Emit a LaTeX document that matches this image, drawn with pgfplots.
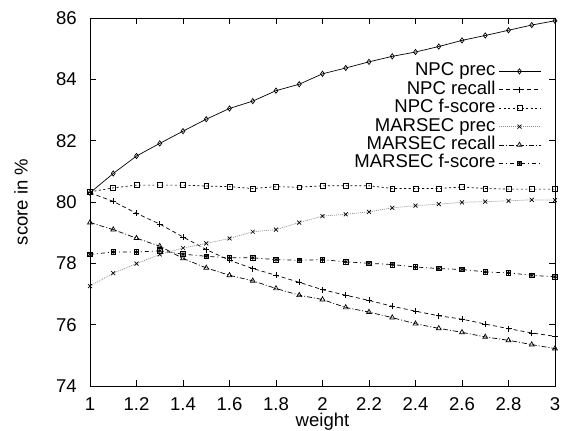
\documentclass[border=0pt]{standalone}
\usepackage{fontspec}
\setmainfont{Liberation Sans}
\usepackage{pgfplots}
\usepackage{pgfplotstable}
\pgfplotsset{compat=1.18}

\pgfdeclareplotmark{sqast}{%
  \pgfpathrectangle{\pgfpoint{-\pgfplotmarksize}{-\pgfplotmarksize}}{\pgfpoint{2\pgfplotmarksize}{2\pgfplotmarksize}}%
  \pgfusepathqstroke
  \pgfuseplotmark{asterisk}}

\pgfplotstableread{
x    npcp   npcr   npcf   marp   marr   marf
1.0  80.30  80.30  80.33  77.26  79.33  78.29
1.1  80.93  80.02  80.46  77.68  79.10  78.37
1.2  81.50  79.63  80.55  77.99  78.82  78.37
1.3  81.91  79.28  80.55  78.29  78.56  78.41
1.4  82.31  78.86  80.55  78.50  78.16  78.30
1.5  82.70  78.45  80.52  78.65  77.85  78.23
1.6  83.05  78.10  80.50  78.81  77.61  78.18
1.7  83.29  77.83  80.44  79.03  77.43  78.18
1.8  83.63  77.61  80.50  79.10  77.18  78.12
1.9  83.84  77.38  80.48  79.33  76.96  78.10
2.0  84.18  77.14  80.53  79.54  76.82  78.12
2.1  84.37  76.96  80.53  79.60  76.56  78.05
2.2  84.57  76.79  80.53  79.68  76.41  78.00
2.3  84.75  76.60  80.44  79.81  76.23  77.96
2.4  84.89  76.44  80.44  79.88  76.03  77.88
2.5  85.07  76.29  80.44  79.93  75.88  77.83
2.6  85.27  76.18  80.49  79.99  75.75  77.80
2.7  85.43  76.02  80.44  80.01  75.60  77.72
2.8  85.60  75.87  80.42  80.04  75.49  77.69
2.9  85.77  75.73  80.42  80.07  75.35  77.61
3.0  85.91  75.62  80.42  80.06  75.22  77.56
}\datatable

\begin{document}
\begin{tikzpicture}
\begin{axis}[name=ax, at={(0,0)}, anchor=south west,
  scale only axis, width=465bp, height=368bp,
  xmin=1, xmax=3, ymin=74, ymax=86,
  xtick={1,1.2,1.4,1.6,1.8,2,2.2,2.4,2.6,2.8,3},
  ytick={74,76,78,80,82,84,86},
  tick align=inside, major tick length=6bp,
  axis line style={line width=0.9bp},
  every tick/.style={line width=0.7bp, black},
  tick label style={font=\fontsize{18.6}{20}\selectfont},
  /pgf/number format/assume math mode=true,
  xticklabel style={anchor=base, inner sep=0pt, yshift=-24bp},
  yticklabel style={anchor=east, inner sep=0pt, xshift=-13bp},
  xlabel={weight},
  ylabel={score in \%},
  label style={font=\fontsize{18.6}{20}\selectfont},
  xlabel style={at={(axis description cs:0.5,-0.1087)}, anchor=base, inner sep=0pt},
  ylabel style={at={(axis description cs:-0.1484,0.5)}, anchor=center},
  legend cell align=right,
  legend plot pos=right,
  legend style={at={(axis description cs:1,1)}, anchor=north east,
    xshift=-13bp, yshift=-44bp, draw=none, fill=none, inner sep=0pt,
    row sep=0pt, column sep=3bp,
    font=\fontsize{18.6}{18}\selectfont,
    nodes={inner sep=0.7bp, text height=13bp, text depth=4bp}},
  legend image code/.code={\draw[mark repeat=2,mark phase=2] plot coordinates {(0bp,0bp) (20bp,0bp) (42bp,0bp)};},
  every axis plot/.append style={line width=0.7bp},
]
\addplot[black, mark=diamond, mark size=2.6bp, mark options={solid}] table[x=x,y=npcp] {\datatable};
\addlegendentry{NPC prec}
\addplot[black, dash pattern=on 4bp off 3bp, mark=+, mark size=3bp, mark options={solid}] table[x=x,y=npcr] {\datatable};
\addlegendentry{NPC recall}
\addplot[black, dash pattern=on 2bp off 2.5bp, mark=square, mark size=2.4bp, mark options={solid}] table[x=x,y=npcf] {\datatable};
\addlegendentry{NPC f-score}
\addplot[black!45, dash pattern=on 1bp off 1bp, mark=x, mark size=2.8bp, mark options={solid, black}] table[x=x,y=marp] {\datatable};
\addlegendentry{MARSEC prec}
\addplot[black, dash pattern=on 5bp off 2bp on 1bp off 2bp, mark=triangle, mark size=2.8bp, mark options={solid}] table[x=x,y=marr] {\datatable};
\addlegendentry{MARSEC recall}
\addplot[black, dash pattern=on 4bp off 3bp on 1bp off 3bp, mark=sqast, mark size=2.3bp, mark options={solid}] table[x=x,y=marf] {\datatable};
\addlegendentry{MARSEC f-score}
\end{axis}
\pgfresetboundingbox
\path (ax.south west) ++(-90bp,-45bp) rectangle ++(568bp,431bp);
\end{tikzpicture}
\end{document}
